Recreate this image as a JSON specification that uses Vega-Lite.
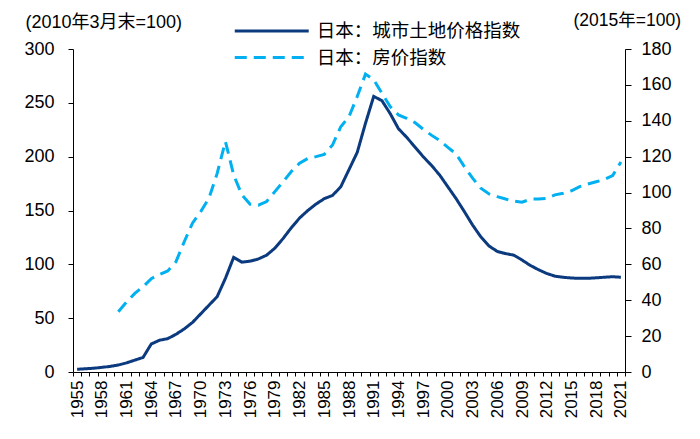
{
  "$schema": "https://vega.github.io/schema/vega-lite/v6.json",
  "autosize": {"type": "none"},
  "padding": {"left": 73, "top": 49, "right": 75, "bottom": 67},
  "width": 552,
  "height": 323,
  "background": "white",
  "config": {
    "view": {"stroke": null},
    "font": "Liberation Sans",
    "axis": {
      "domainColor": "#000000",
      "tickColor": "#000000",
      "labelColor": "#000000",
      "titleColor": "#000000",
      "labelFont": "Liberation Sans",
      "titleFont": "Liberation Sans, Noto Sans CJK SC",
      "grid": false
    }
  },
  "data": {
    "values": [
      {"year": 1955, "series": "日本：城市土地价格指数", "value": 2.5},
      {"year": 1956, "series": "日本：城市土地价格指数", "value": 3},
      {"year": 1957, "series": "日本：城市土地价格指数", "value": 3.5},
      {"year": 1958, "series": "日本：城市土地价格指数", "value": 4.3},
      {"year": 1959, "series": "日本：城市土地价格指数", "value": 5.2},
      {"year": 1960, "series": "日本：城市土地价格指数", "value": 6.5},
      {"year": 1961, "series": "日本：城市土地价格指数", "value": 8.5},
      {"year": 1962, "series": "日本：城市土地价格指数", "value": 11},
      {"year": 1963, "series": "日本：城市土地价格指数", "value": 13.5},
      {"year": 1964, "series": "日本：城市土地价格指数", "value": 26},
      {"year": 1965, "series": "日本：城市土地价格指数", "value": 29.5},
      {"year": 1966, "series": "日本：城市土地价格指数", "value": 31},
      {"year": 1967, "series": "日本：城市土地价格指数", "value": 35},
      {"year": 1968, "series": "日本：城市土地价格指数", "value": 40},
      {"year": 1969, "series": "日本：城市土地价格指数", "value": 46},
      {"year": 1970, "series": "日本：城市土地价格指数", "value": 54},
      {"year": 1971, "series": "日本：城市土地价格指数", "value": 62},
      {"year": 1972, "series": "日本：城市土地价格指数", "value": 70},
      {"year": 1973, "series": "日本：城市土地价格指数", "value": 87},
      {"year": 1974, "series": "日本：城市土地价格指数", "value": 106.5},
      {"year": 1975, "series": "日本：城市土地价格指数", "value": 102},
      {"year": 1976, "series": "日本：城市土地价格指数", "value": 103},
      {"year": 1977, "series": "日本：城市土地价格指数", "value": 105},
      {"year": 1978, "series": "日本：城市土地价格指数", "value": 108.5},
      {"year": 1979, "series": "日本：城市土地价格指数", "value": 115},
      {"year": 1980, "series": "日本：城市土地价格指数", "value": 124},
      {"year": 1981, "series": "日本：城市土地价格指数", "value": 134},
      {"year": 1982, "series": "日本：城市土地价格指数", "value": 143},
      {"year": 1983, "series": "日本：城市土地价格指数", "value": 150},
      {"year": 1984, "series": "日本：城市土地价格指数", "value": 156},
      {"year": 1985, "series": "日本：城市土地价格指数", "value": 161},
      {"year": 1986, "series": "日本：城市土地价格指数", "value": 164},
      {"year": 1987, "series": "日本：城市土地价格指数", "value": 172},
      {"year": 1988, "series": "日本：城市土地价格指数", "value": 188},
      {"year": 1989, "series": "日本：城市土地价格指数", "value": 204},
      {"year": 1990, "series": "日本：城市土地价格指数", "value": 231},
      {"year": 1991, "series": "日本：城市土地价格指数", "value": 256},
      {"year": 1992, "series": "日本：城市土地价格指数", "value": 252},
      {"year": 1993, "series": "日本：城市土地价格指数", "value": 240},
      {"year": 1994, "series": "日本：城市土地价格指数", "value": 226},
      {"year": 1995, "series": "日本：城市土地价格指数", "value": 218},
      {"year": 1996, "series": "日本：城市土地价格指数", "value": 209},
      {"year": 1997, "series": "日本：城市土地价格指数", "value": 200},
      {"year": 1998, "series": "日本：城市土地价格指数", "value": 192},
      {"year": 1999, "series": "日本：城市土地价格指数", "value": 183},
      {"year": 2000, "series": "日本：城市土地价格指数", "value": 172},
      {"year": 2001, "series": "日本：城市土地价格指数", "value": 161},
      {"year": 2002, "series": "日本：城市土地价格指数", "value": 149},
      {"year": 2003, "series": "日本：城市土地价格指数", "value": 136.5},
      {"year": 2004, "series": "日本：城市土地价格指数", "value": 125.5},
      {"year": 2005, "series": "日本：城市土地价格指数", "value": 117},
      {"year": 2006, "series": "日本：城市土地价格指数", "value": 112},
      {"year": 2007, "series": "日本：城市土地价格指数", "value": 110},
      {"year": 2008, "series": "日本：城市土地价格指数", "value": 108.5},
      {"year": 2009, "series": "日本：城市土地价格指数", "value": 104},
      {"year": 2010, "series": "日本：城市土地价格指数", "value": 99},
      {"year": 2011, "series": "日本：城市土地价格指数", "value": 95},
      {"year": 2012, "series": "日本：城市土地价格指数", "value": 91.5},
      {"year": 2013, "series": "日本：城市土地价格指数", "value": 89},
      {"year": 2014, "series": "日本：城市土地价格指数", "value": 88},
      {"year": 2015, "series": "日本：城市土地价格指数", "value": 87.3},
      {"year": 2016, "series": "日本：城市土地价格指数", "value": 87},
      {"year": 2017, "series": "日本：城市土地价格指数", "value": 87},
      {"year": 2018, "series": "日本：城市土地价格指数", "value": 87.5},
      {"year": 2019, "series": "日本：城市土地价格指数", "value": 88},
      {"year": 2020, "series": "日本：城市土地价格指数", "value": 88.5},
      {"year": 2021, "series": "日本：城市土地价格指数", "value": 88},
      {"year": 1960, "series": "日本：房价指数", "value": 33.6},
      {"year": 1961, "series": "日本：房价指数", "value": 39},
      {"year": 1962, "series": "日本：房价指数", "value": 43.8},
      {"year": 1963, "series": "日本：房价指数", "value": 47.5},
      {"year": 1964, "series": "日本：房价指数", "value": 52},
      {"year": 1965, "series": "日本：房价指数", "value": 54.4},
      {"year": 1966, "series": "日本：房价指数", "value": 56.3},
      {"year": 1967, "series": "日本：房价指数", "value": 61.5},
      {"year": 1968, "series": "日本：房价指数", "value": 72.6},
      {"year": 1969, "series": "日本：房价指数", "value": 82.9},
      {"year": 1970, "series": "日本：房价指数", "value": 89.4},
      {"year": 1971, "series": "日本：房价指数", "value": 96.8},
      {"year": 1972, "series": "日本：房价指数", "value": 110.7},
      {"year": 1973, "series": "日本：房价指数", "value": 128.5},
      {"year": 1974, "series": "日本：房价指数", "value": 109.8},
      {"year": 1975, "series": "日本：房价指数", "value": 98.7},
      {"year": 1976, "series": "日本：房价指数", "value": 93.5},
      {"year": 1977, "series": "日本：房价指数", "value": 93},
      {"year": 1978, "series": "日本：房价指数", "value": 95},
      {"year": 1979, "series": "日本：房价指数", "value": 100.5},
      {"year": 1980, "series": "日本：房价指数", "value": 106},
      {"year": 1981, "series": "日本：房价指数", "value": 111.7},
      {"year": 1982, "series": "日本：房价指数", "value": 116.3},
      {"year": 1983, "series": "日本：房价指数", "value": 119},
      {"year": 1984, "series": "日本：房价指数", "value": 120},
      {"year": 1985, "series": "日本：房价指数", "value": 121.3},
      {"year": 1986, "series": "日本：房价指数", "value": 126.5},
      {"year": 1987, "series": "日本：房价指数", "value": 136.7},
      {"year": 1988, "series": "日本：房价指数", "value": 142.3},
      {"year": 1989, "series": "日本：房价指数", "value": 153.5},
      {"year": 1990, "series": "日本：房价指数", "value": 166},
      {"year": 1991, "series": "日本：房价指数", "value": 162.8},
      {"year": 1992, "series": "日本：房价指数", "value": 155.3},
      {"year": 1993, "series": "日本：房价指数", "value": 147.9},
      {"year": 1994, "series": "日本：房价指数", "value": 143.3},
      {"year": 1995, "series": "日本：房价指数", "value": 141.4},
      {"year": 1996, "series": "日本：房价指数", "value": 139},
      {"year": 1997, "series": "日本：房价指数", "value": 135.3},
      {"year": 1998, "series": "日本：房价指数", "value": 132},
      {"year": 1999, "series": "日本：房价指数", "value": 129},
      {"year": 2000, "series": "日本：房价指数", "value": 125.2},
      {"year": 2001, "series": "日本：房价指数", "value": 121.5},
      {"year": 2002, "series": "日本：房价指数", "value": 114.5},
      {"year": 2003, "series": "日本：房价指数", "value": 108},
      {"year": 2004, "series": "日本：房价指数", "value": 102.4},
      {"year": 2005, "series": "日本：房价指数", "value": 99.2},
      {"year": 2006, "series": "日本：房价指数", "value": 97.7},
      {"year": 2007, "series": "日本：房价指数", "value": 96.4},
      {"year": 2008, "series": "日本：房价指数", "value": 95.3},
      {"year": 2009, "series": "日本：房价指数", "value": 94.6},
      {"year": 2010, "series": "日本：房价指数", "value": 96.3},
      {"year": 2011, "series": "日本：房价指数", "value": 96.4},
      {"year": 2012, "series": "日本：房价指数", "value": 96.8},
      {"year": 2013, "series": "日本：房价指数", "value": 98.7},
      {"year": 2014, "series": "日本：房价指数", "value": 99.6},
      {"year": 2015, "series": "日本：房价指数", "value": 101},
      {"year": 2016, "series": "日本：房价指数", "value": 103.3},
      {"year": 2017, "series": "日本：房价指数", "value": 104.8},
      {"year": 2018, "series": "日本：房价指数", "value": 106},
      {"year": 2019, "series": "日本：房价指数", "value": 107.3},
      {"year": 2020, "series": "日本：房价指数", "value": 109.5},
      {"year": 2021, "series": "日本：房价指数", "value": 117}
    ]
  },
  "encoding": {
    "x": {
      "field": "year",
      "type": "ordinal",
      "bandPosition": 0.5,
      "scale": {"type": "band", "paddingInner": 0, "paddingOuter": 0},
      "axis": {
        "title": null,
        "labelAngle": -90,
        "labelFontSize": 17,
        "labelPadding": 4,
        "tickSize": 4,
        "tickBand": "extent",
        "labelOverlap": false,
        "labelExpr": "(datum.value - 1955) % 3 == 0 ? datum.label : ''"
      }
    },
    "color": {
      "field": "series",
      "type": "nominal",
      "scale": {
        "domain": ["日本：城市土地价格指数", "日本：房价指数"],
        "range": ["#0b3a7e", "#00b0f0"]
      },
      "legend": {
        "title": null,
        "orient": "none",
        "legendX": 187.75,
        "legendY": -29,
        "padding": 0,
        "symbolType": "M-4,0H4",
        "symbolSize": 342,
        "symbolStrokeWidth": 3,
        "labelFont": "Noto Sans CJK SC",
        "labelFontSize": 18.5,
        "labelLimit": 0,
        "labelColor": "#000000",
        "labelOffset": 34,
        "rowPadding": 5.5
      }
    },
    "strokeDash": {
      "field": "series",
      "type": "nominal",
      "scale": {
        "domain": ["日本：城市土地价格指数", "日本：房价指数"],
        "range": [[1, 0], [12, 7]]
      },
      "legend": {
        "title": null,
        "orient": "none",
        "legendX": 187.75,
        "legendY": -29,
        "padding": 0,
        "symbolType": "M-4,0H4",
        "symbolSize": 342,
        "symbolStrokeWidth": 3,
        "labelFont": "Noto Sans CJK SC",
        "labelFontSize": 18.5,
        "labelLimit": 0,
        "labelColor": "#000000",
        "labelOffset": 34,
        "rowPadding": 5.5
      }
    }
  },
  "layer": [
    {
      "transform": [{"filter": "datum.series == '日本：城市土地价格指数'"}],
      "mark": {"type": "line", "strokeWidth": 3},
      "encoding": {
        "y": {
          "field": "value",
          "type": "quantitative",
          "scale": {"domain": [0, 300], "nice": false},
          "axis": {
            "values": [0, 50, 100, 150, 200, 250, 300],
            "labelFontSize": 18,
            "tickSize": 5,
            "labelPadding": 14,
            "title": "(2010年3月末=100)",
            "titleFontSize": 18,
            "titleFontWeight": "normal",
            "titleAngle": 0,
            "titleX": -48,
            "titleY": -27,
            "titleAlign": "left",
            "titleBaseline": "middle"
          }
        }
      }
    },
    {
      "transform": [{"filter": "datum.series == '日本：房价指数'"}],
      "mark": {"type": "line", "strokeWidth": 3},
      "encoding": {
        "y": {
          "field": "value",
          "type": "quantitative",
          "scale": {"domain": [0, 180], "nice": false},
          "axis": {
            "orient": "right",
            "values": [0, 20, 40, 60, 80, 100, 120, 140, 160, 180],
            "labelFontSize": 18,
            "tickSize": 6,
            "labelPadding": 10,
            "title": "(2015年=100)",
            "titleFontSize": 17.5,
            "titleFontWeight": "normal",
            "titleAngle": 0,
            "titleX": -52,
            "titleY": -29,
            "titleAlign": "left",
            "titleBaseline": "middle"
          }
        }
      }
    }
  ],
  "resolve": {"scale": {"y": "independent"}}
}
